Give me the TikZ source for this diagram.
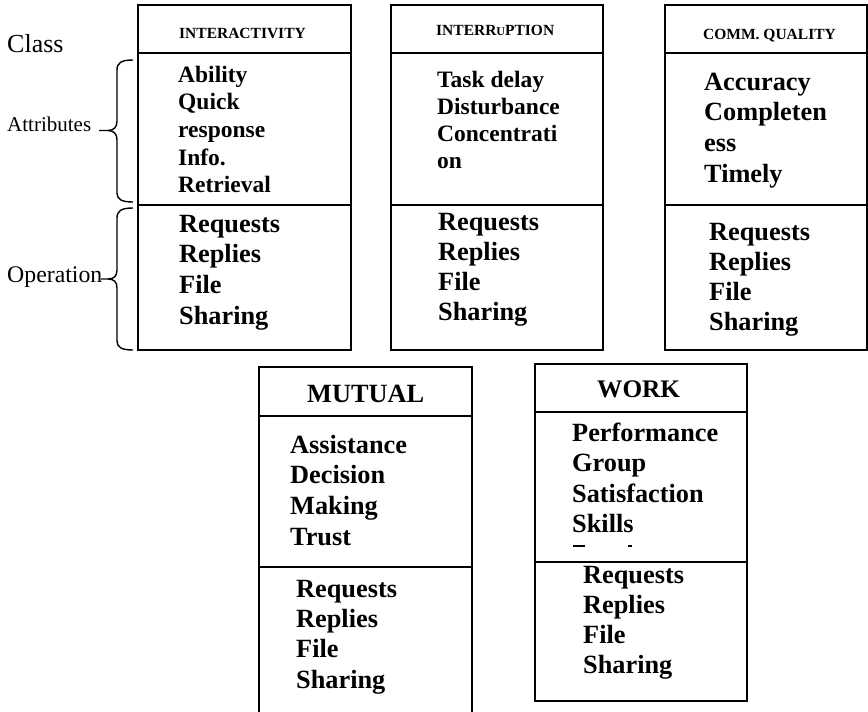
\documentclass[tikz,border=0pt]{standalone}
\usepackage{fontspec}
\setmainfont{Liberation Serif}
\newcommand\fsz[1]{\fontsize{#1}{#1}\selectfont}
\tikzset{
 box/.style={line width=2.2pt},
 sepline/.style={line width=1.4pt},
 brc/.style={line width=1.4pt},
 txt/.style={anchor=base west, inner sep=0pt, font=\bfseries\fsz{26.3}},
 smalltxt/.style={anchor=base west, inner sep=0pt, font=\bfseries\fsz{23.5}},
 hdr/.style={anchor=base west, inner sep=0pt, font=\bfseries\fsz{15.5}},
 lbl/.style={anchor=base west, inner sep=0pt},
 cutmark/.style={fill=black, draw=none},
}
\begin{document}
\begin{tikzpicture}[x=1pt,y=-1pt]
\useasboundingbox (0,0) rectangle (868,712);
% ---------- boxes ----------
% Interactivity
\draw[box] (138,5) rectangle (351,350);
\draw[sepline] (138,53) -- (351,53);
\draw[sepline] (138,205) -- (351,205);
% Interruption
\draw[box] (391,5) rectangle (603,350);
\draw[sepline] (391,53) -- (603,53);
\draw[sepline] (391,205) -- (603,205);
% Comm quality
\draw[box] (665,5) rectangle (867,350);
\draw[sepline] (665,53) -- (867,53);
\draw[sepline] (665,205) -- (867,205);
% Mutual (open bottom)
\draw[box] (259,714) -- (259,367) -- (472,367) -- (472,714);
\draw[sepline] (259,416) -- (472,416);
\draw[sepline] (259,567) -- (472,567);
% Work
\draw[box] (535,364) rectangle (747,701);
\draw[sepline] (535,412) -- (747,412);
\draw[sepline] (535,562) -- (747,562);
% ---------- left labels ----------
\node[lbl, font=\fsz{26}] (class) at (7,52) {Class};
\node[lbl, font=\fsz{21}] (attr) at (7,131.5) {Attributes};
\node[lbl, font=\fsz{23.8}] (oper) at (7,282.5) {Operation};
% braces
\draw[brc] (133,60) .. controls (121,60) and (117,63) .. (117,70) -- (117,121)
  .. controls (117,127) and (114,130.5) .. (108,130.5) -- (99,130.5);
\draw[brc] (108,130.5) .. controls (114,130.5) and (117,134) .. (117,140) -- (117,193)
  .. controls (117,199) and (121,202) .. (133,202);
\draw[brc] (133,208) .. controls (121,208) and (117,211) .. (117,218) -- (117,270)
  .. controls (117,276) and (114,279) .. (108,279) -- (101,279);
\draw[brc] (108,279) .. controls (114,279) and (117,282) .. (117,288) -- (117,341)
  .. controls (117,347) and (121,350) .. (133,350);
% ---------- headers ----------
\node[hdr] (h1) at (179,38) {INTERACTIVITY};
\node[hdr] (h2) at (436,35) {INTERR{\fsz{12}U}PTION};
\node[hdr] (h3) at (703,39) {COMM. QUALITY};
\node[txt] (h4) at (307,402) {MUTUAL};
\node[txt, font=\bfseries\fsz{25.3}] (h5) at (597,397) {WORK};
% ---------- attributes ----------
\foreach \t [count=\i] in {Ability,Quick,response,Info.,Retrieval}
  \node[smalltxt] (a1-\i) at (178,{82+27.7*(\i-1)}) {\t};
\foreach \t [count=\i] in {Task delay,Disturbance,Concentrati,on}
  \node[smalltxt] (a2-\i) at (437,{87+27*(\i-1)}) {\t};
\foreach \t [count=\i] in {Accuracy,Completen,ess,Timely}
  \node[txt] (a3-\i) at (704,{90+30.7*(\i-1)}) {\t};
\foreach \t [count=\i] in {Assistance,Decision,Making,Trust}
  \node[txt] (a4-\i) at (290,{453+30.7*(\i-1)}) {\t};
\foreach \t [count=\i] in {Performance,Group,Satisfaction,Skills}
  \node[txt] (a5-\i) at (572,{441+30.5*(\i-1)}) {\t};
% clipped tops of a hidden fifth line
\fill[cutmark] (573,545) rectangle (585,547);
\fill[cutmark] (628,545) rectangle (632,547);
% ---------- operations ----------
\foreach \t [count=\i] in {Requests,Replies,File,Sharing}
  \node[txt] (o1-\i) at (179,{232+30.8*(\i-1)}) {\t};
\foreach \t [count=\i] in {Requests,Replies,File,Sharing}
  \node[txt] (o2-\i) at (438,{230+30*(\i-1)}) {\t};
\foreach \t [count=\i] in {Requests,Replies,File,Sharing}
  \node[txt] (o3-\i) at (709,{240+30*(\i-1)}) {\t};
\foreach \t [count=\i] in {Requests,Replies,File,Sharing}
  \node[txt] (o4-\i) at (296,{597+30.4*(\i-1)}) {\t};
\foreach \t [count=\i] in {Requests,Replies,File,Sharing}
  \node[txt] (o5-\i) at (583,{583.5+30*(\i-1)}) {\t};
\end{tikzpicture}
\end{document}
